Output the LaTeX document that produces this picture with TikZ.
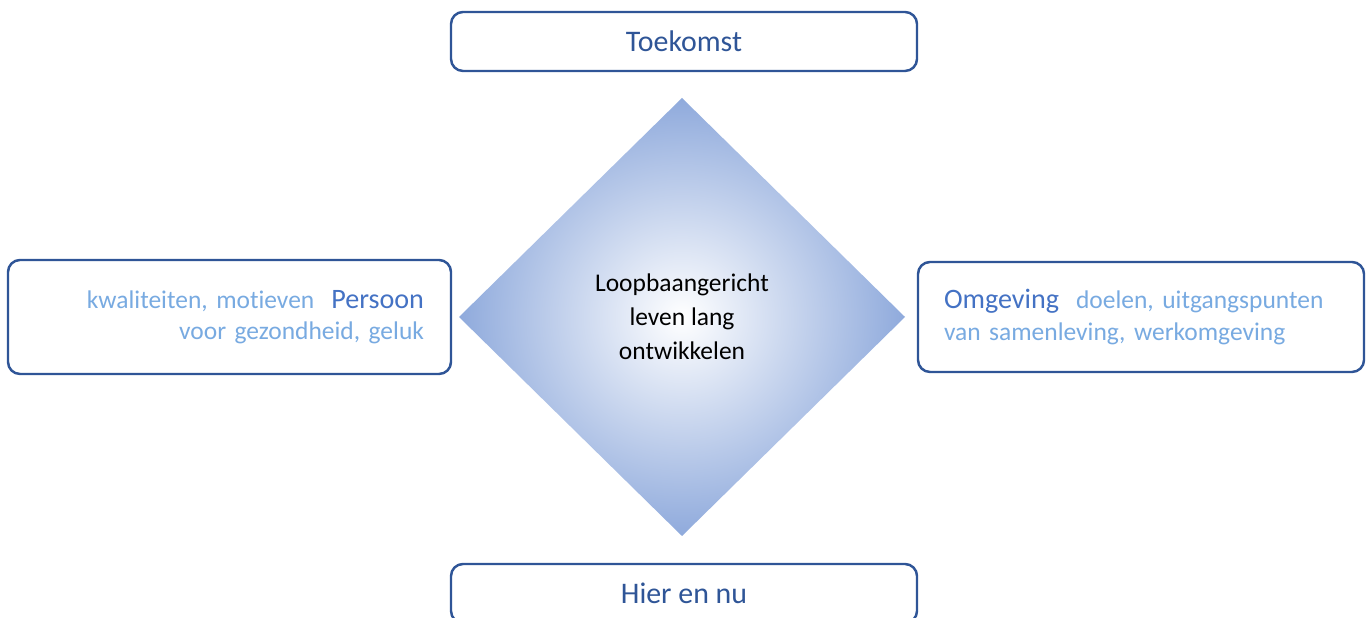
\documentclass[tikz,border=0pt]{standalone}
\usepackage{fontspec}
\setmainfont{Carlito}[Ligatures=NoCommon]
\usepackage{xcolor}
\usetikzlibrary{positioning,shapes.geometric}
\definecolor{framedark}{RGB}{47,85,151}
\definecolor{headblue}{RGB}{68,114,196}
\definecolor{softblue}{RGB}{120,170,225}
\definecolor{diamondblue}{RGB}{143,170,220}

\begin{document}
\begin{tikzpicture}[
    frame/.style={rectangle, rounded corners=0.24cm, draw=framedark, line width=1.4pt, fill=white, outer sep=0pt},
    pole/.style={frame, minimum width=9.32cm, minimum height=1.18cm, text=framedark, font=\fontsize{17}{20}\selectfont},
    side/.style={frame, minimum height=2.2cm, inner ysep=0pt, text=softblue, font=\fontsize{14.5}{18}\selectfont},
    core/.style={diamond, inner sep=0pt, outer sep=0pt, minimum width=8.92cm, minimum height=8.76cm,
        inner color=white, outer color=diamondblue, align=center, font=\fontsize{14.5}{19.3}\selectfont}
]
    \useasboundingbox (0,0) rectangle (27.42,12.36);

    \node[core] (loopbaan) at (13.64,6.02) {Loopbaangericht\\leven lang\\ontwikkelen};

    \node[pole, above=0.54cm of loopbaan, xshift=0.04cm] (toekomst) {Toekomst};
    \node[pole, below=0.56cm of loopbaan, xshift=0.04cm] (hiernu) {Hier en nu};

    \node[side, left=0.16cm of loopbaan, minimum height=2.28cm, text width=7.78cm, inner xsep=0.54cm, align=right] (persoon)
        {kwaliteiten, motieven\ \ {\fontsize{16}{18}\selectfont\color{headblue}Persoon}\\voor gezondheid, geluk};
    \node[side, right=0.26cm of loopbaan, text width=7.88cm, inner xsep=0.52cm, align=left] (omgeving)
        {{\fontsize{16}{18}\selectfont\color{headblue}Omgeving}\ \ doelen, uitgangspunten\\van samenleving, werkomgeving};
\end{tikzpicture}
\end{document}
